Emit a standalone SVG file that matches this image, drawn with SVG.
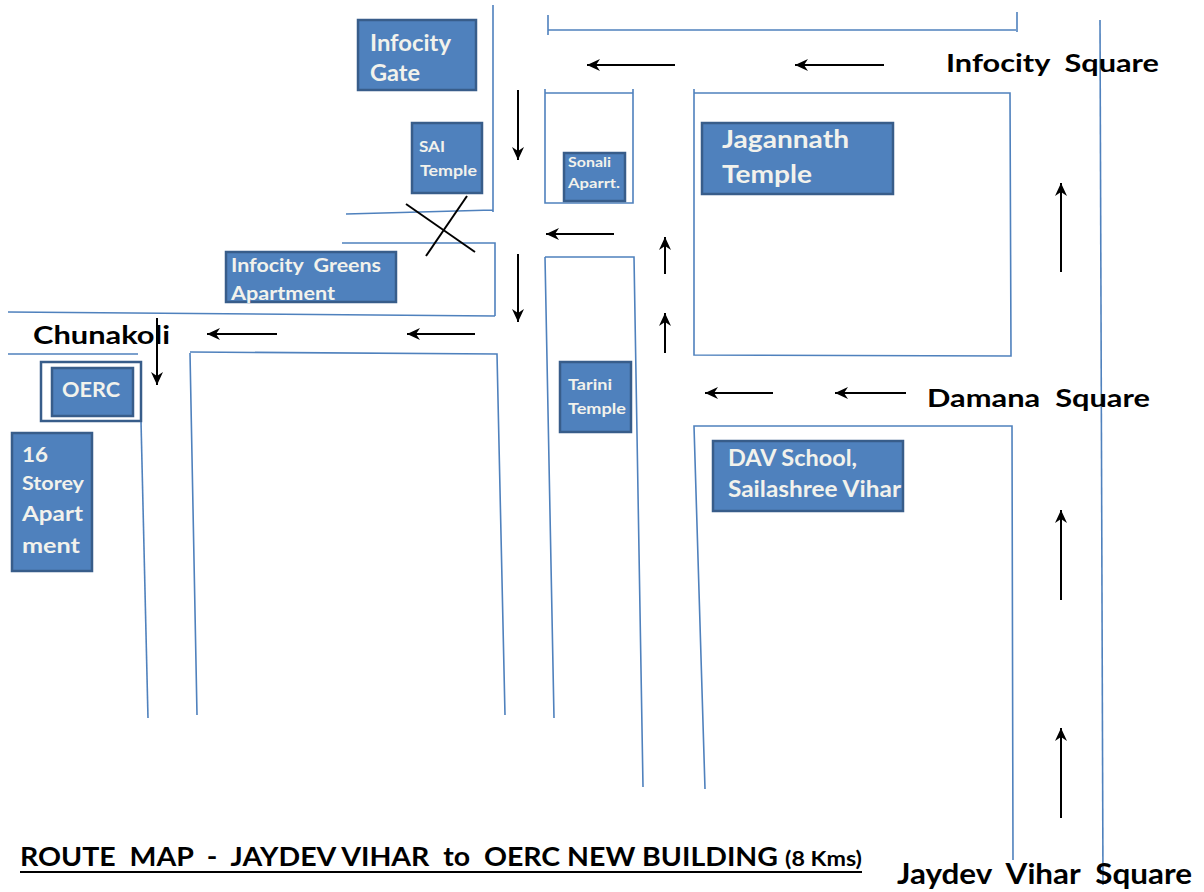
<svg xmlns="http://www.w3.org/2000/svg" width="1204" height="892" viewBox="0 0 1204 892">
<style>
.road{fill:none;stroke:#4F81BD;stroke-width:1.6}
.arr{fill:none;stroke:#000;stroke-width:2;marker-end:url(#ah)}
.x{stroke:#000;stroke-width:2}
.box{fill:#4F81BD;stroke:#385D8A;stroke-width:2.5}
.bt{font-family:Lato,"Open Sans",sans-serif;font-weight:bold;fill:#F2F2EC}
.lbl{font-family:Lato,"Open Sans",sans-serif;font-weight:bold;fill:#000}
</style>
<defs>
<marker id="ah" markerUnits="userSpaceOnUse" markerWidth="14" markerHeight="14" refX="13" refY="7" orient="auto">
<path d="M13,7 L0,1 L4,7 L0,13 Z" fill="#000"/>
</marker>
</defs>
<rect width="1204" height="892" fill="#fff"/>
<g id="roads">
<path class="road" d="M548,30 L1016,30 M548,15 L548,35 M1017,12 L1017,32"/>
<path class="road" d="M493,5 L493,212 M346,214 L493,210"/>
<path class="road" d="M342,243 L495,243 L495,316 M8,312 L495,316"/>
<path class="road" d="M8,354 L138,354"/>
<path class="road" d="M141,421 L148,718"/>
<path class="road" d="M190,353 L197,715 M190,352 L497,354 L505,715"/>
<path class="road" d="M545,257 L554,718 M545,257 L634,257 L643,787"/>
<path class="road" d="M545,93 L633,93 L633,203 L545,203 Z M545,89 L545,93 M633,89 L633,93"/>
<path class="road" d="M694,93 L1010,93 L1011,356 L694,355 Z M694,89 L694,93"/>
<path class="road" d="M705,789 L694,426 L1012,426 L1013,860"/>
<path class="road" d="M1100,20 L1103,885"/>
</g>
<g id="connectors">
<line class="arr" x1="675" y1="65" x2="587" y2="65"/>
<line class="arr" x1="884" y1="65" x2="795" y2="65"/>
<line class="arr" x1="518" y1="90" x2="518" y2="160"/>
<line class="arr" x1="614" y1="234" x2="546" y2="234"/>
<line class="arr" x1="518" y1="254" x2="518" y2="322"/>
<line class="arr" x1="665" y1="274" x2="665" y2="237"/>
<line class="arr" x1="665" y1="353" x2="665" y2="313"/>
<line class="arr" x1="475" y1="334" x2="407" y2="334"/>
<line class="arr" x1="277" y1="334" x2="207" y2="334"/>
<line class="arr" x1="157" y1="318" x2="157" y2="385"/>
<line class="arr" x1="773" y1="393" x2="705" y2="393"/>
<line class="arr" x1="906" y1="393" x2="835" y2="393"/>
<line class="arr" x1="1061" y1="272" x2="1061" y2="183"/>
<line class="arr" x1="1061" y1="600" x2="1061" y2="510"/>
<line class="arr" x1="1061" y1="818" x2="1061" y2="728"/>
<line class="x" x1="406" y1="204" x2="475" y2="252"/>
<line class="x" x1="467" y1="196" x2="426" y2="256"/>
</g>
<g id="infocity-gate">
<rect class="box" x="358" y="20" width="118" height="70"/>
<text class="bt" x="370" y="51" font-size="23" textLength="81" lengthAdjust="spacingAndGlyphs">Infocity</text>
<text class="bt" x="370" y="81" font-size="23" textLength="50" lengthAdjust="spacingAndGlyphs">Gate</text>
</g>
<g id="sai-temple">
<rect class="box" x="412" y="123" width="70" height="70"/>
<text class="bt" x="419" y="152" font-size="16" textLength="26" lengthAdjust="spacingAndGlyphs">SAI</text>
<text class="bt" x="420" y="176" font-size="16" textLength="57" lengthAdjust="spacingAndGlyphs">Temple</text>
</g>
<g id="sonali">
<rect class="box" x="564" y="153" width="61" height="48"/>
<text class="bt" x="568" y="167" font-size="13" textLength="43" lengthAdjust="spacingAndGlyphs">Sonali</text>
<text class="bt" x="568" y="188" font-size="13" textLength="52" lengthAdjust="spacingAndGlyphs">Aparrt.</text>
</g>
<g id="infocity-greens">
<rect class="box" x="226" y="252" width="170" height="50"/>
<text class="bt" x="231" y="272" font-size="18" textLength="150" lengthAdjust="spacingAndGlyphs" xml:space="preserve">Infocity  Greens</text>
<text class="bt" x="231" y="300" font-size="18" textLength="104" lengthAdjust="spacingAndGlyphs">Apartment</text>
</g>
<g id="jagannath">
<rect class="box" x="702" y="123" width="191" height="71"/>
<text class="bt" x="722" y="148" font-size="25" textLength="127" lengthAdjust="spacingAndGlyphs">Jagannath</text>
<text class="bt" x="722" y="183" font-size="25" textLength="90" lengthAdjust="spacingAndGlyphs">Temple</text>
</g>
<g id="oerc">
<rect x="41" y="362" width="100" height="59" fill="none" stroke="#385D8A" stroke-width="2.5"/>
<rect class="box" x="52" y="368" width="81" height="48"/>
<text class="bt" x="62" y="397" font-size="21" textLength="58" lengthAdjust="spacingAndGlyphs">OERC</text>
</g>
<g id="sixteen-storey">
<rect class="box" x="12" y="433" width="80" height="138"/>
<text class="bt" x="22" y="462" font-size="20" textLength="26" lengthAdjust="spacingAndGlyphs">16</text>
<text class="bt" x="22" y="490" font-size="18" textLength="62" lengthAdjust="spacingAndGlyphs">Storey</text>
<text class="bt" x="22" y="521" font-size="21" textLength="61" lengthAdjust="spacingAndGlyphs">Apart</text>
<text class="bt" x="22" y="553" font-size="21" textLength="58" lengthAdjust="spacingAndGlyphs">ment</text>
</g>
<g id="tarini">
<rect class="box" x="560" y="362" width="71" height="70"/>
<text class="bt" x="568" y="390" font-size="16" textLength="44" lengthAdjust="spacingAndGlyphs">Tarini</text>
<text class="bt" x="568" y="414" font-size="16" textLength="58" lengthAdjust="spacingAndGlyphs">Temple</text>
</g>
<g id="dav">
<rect class="box" x="713" y="441" width="190" height="70"/>
<text class="bt" x="728" y="466" font-size="22" textLength="129" lengthAdjust="spacingAndGlyphs">DAV School,</text>
<text class="bt" x="728" y="497" font-size="22" textLength="173" lengthAdjust="spacingAndGlyphs">Sailashree Vihar</text>
</g>
<g id="labels">
<text class="lbl" x="946" y="72" font-size="25" textLength="213" lengthAdjust="spacingAndGlyphs" xml:space="preserve">Infocity  Square</text>
<text class="lbl" x="927" y="407" font-size="25" textLength="223" lengthAdjust="spacingAndGlyphs" xml:space="preserve">Damana  Square</text>
<text class="lbl" x="33" y="344" font-size="24" textLength="137" lengthAdjust="spacingAndGlyphs">Chunakoli</text>
<text class="lbl" x="897" y="884" font-size="29" textLength="295" lengthAdjust="spacingAndGlyphs" xml:space="preserve">Jaydev  Vihar  Square</text>
<text class="lbl" x="20" y="866" font-size="27" textLength="758" lengthAdjust="spacingAndGlyphs" xml:space="preserve">ROUTE  MAP  -  JAYDEV VIHAR  to  OERC NEW BUILDING</text>
<text class="lbl" x="785" y="866" font-size="20" textLength="77" lengthAdjust="spacingAndGlyphs">(8 Kms)</text>
<line x1="20" y1="872" x2="862" y2="872" stroke="#000" stroke-width="2"/>
</g>
</svg>
